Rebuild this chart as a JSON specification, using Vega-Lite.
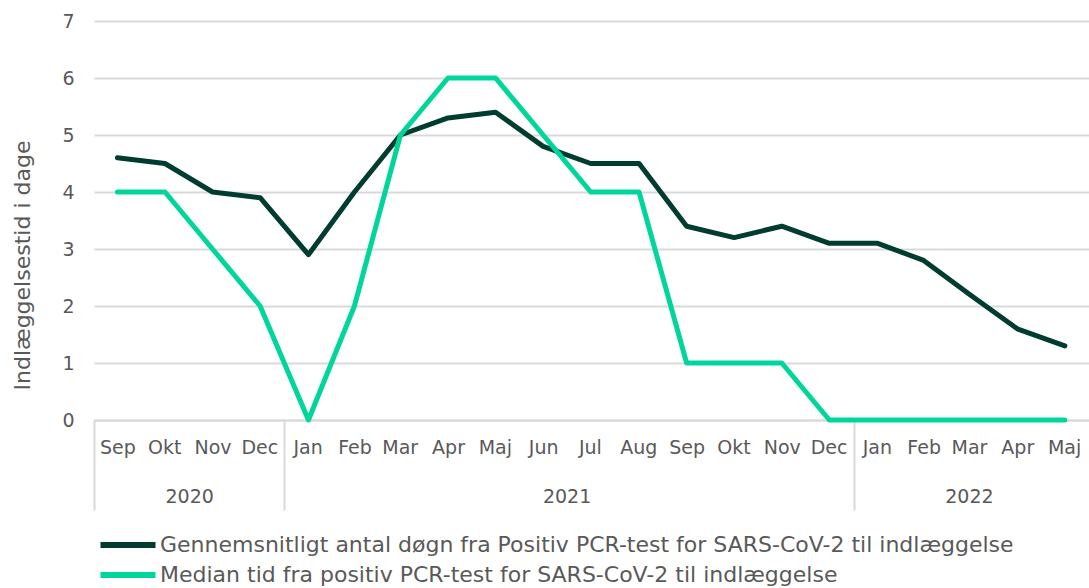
{
  "$schema": "https://vega.github.io/schema/vega-lite/v6.json",
  "width": 995,
  "height": 399,
  "autosize": {"type": "none"},
  "padding": {"left": 94, "top": 21, "right": 0, "bottom": 168},
  "background": "white",
  "config": {
    "font": "DejaVu Sans",
    "view": {"stroke": null},
    "axis": {"labelColor": "#595959", "titleColor": "#595959", "labelFont": "DejaVu Sans", "titleFont": "DejaVu Sans"},
    "legend": {"labelFont": "DejaVu Sans"}
  },
  "data": {
    "values": [
      {"month": "2020-09-01", "serie": "avg", "value": 4.6},
      {"month": "2020-10-01", "serie": "avg", "value": 4.5},
      {"month": "2020-11-01", "serie": "avg", "value": 4.0},
      {"month": "2020-12-01", "serie": "avg", "value": 3.9},
      {"month": "2021-01-01", "serie": "avg", "value": 2.9},
      {"month": "2021-02-01", "serie": "avg", "value": 4.0},
      {"month": "2021-03-01", "serie": "avg", "value": 5.0},
      {"month": "2021-04-01", "serie": "avg", "value": 5.3},
      {"month": "2021-05-01", "serie": "avg", "value": 5.4},
      {"month": "2021-06-01", "serie": "avg", "value": 4.8},
      {"month": "2021-07-01", "serie": "avg", "value": 4.5},
      {"month": "2021-08-01", "serie": "avg", "value": 4.5},
      {"month": "2021-09-01", "serie": "avg", "value": 3.4},
      {"month": "2021-10-01", "serie": "avg", "value": 3.2},
      {"month": "2021-11-01", "serie": "avg", "value": 3.4},
      {"month": "2021-12-01", "serie": "avg", "value": 3.1},
      {"month": "2022-01-01", "serie": "avg", "value": 3.1},
      {"month": "2022-02-01", "serie": "avg", "value": 2.8},
      {"month": "2022-03-01", "serie": "avg", "value": 2.2},
      {"month": "2022-04-01", "serie": "avg", "value": 1.6},
      {"month": "2022-05-01", "serie": "avg", "value": 1.3},
      {"month": "2020-09-01", "serie": "median", "value": 4},
      {"month": "2020-10-01", "serie": "median", "value": 4},
      {"month": "2020-11-01", "serie": "median", "value": 3},
      {"month": "2020-12-01", "serie": "median", "value": 2},
      {"month": "2021-01-01", "serie": "median", "value": 0},
      {"month": "2021-02-01", "serie": "median", "value": 2},
      {"month": "2021-03-01", "serie": "median", "value": 5},
      {"month": "2021-04-01", "serie": "median", "value": 6},
      {"month": "2021-05-01", "serie": "median", "value": 6},
      {"month": "2021-06-01", "serie": "median", "value": 5},
      {"month": "2021-07-01", "serie": "median", "value": 4},
      {"month": "2021-08-01", "serie": "median", "value": 4},
      {"month": "2021-09-01", "serie": "median", "value": 1},
      {"month": "2021-10-01", "serie": "median", "value": 1},
      {"month": "2021-11-01", "serie": "median", "value": 1},
      {"month": "2021-12-01", "serie": "median", "value": 0},
      {"month": "2022-01-01", "serie": "median", "value": 0},
      {"month": "2022-02-01", "serie": "median", "value": 0},
      {"month": "2022-03-01", "serie": "median", "value": 0},
      {"month": "2022-04-01", "serie": "median", "value": 0},
      {"month": "2022-05-01", "serie": "median", "value": 0}
    ]
  },
  "encoding": {
    "y": {
      "field": "value",
      "type": "quantitative",
      "scale": {"domain": [0, 7], "nice": false, "zero": true},
      "axis": {
        "values": [0, 1, 2, 3, 4, 5, 6, 7],
        "title": "Indlæggelsestid i dage",
        "titleFontSize": 22,
        "titleFontWeight": "normal",
        "titlePadding": 27,
        "titleY": 244,
        "labelFontSize": 19,
        "labelPadding": 20,
        "ticks": false,
        "domain": false,
        "gridColor": "#d9d9d9",
        "gridWidth": 2
      }
    },
    "color": {
      "field": "serie",
      "type": "nominal",
      "scale": {"domain": ["avg", "median"], "range": ["#003d30", "#00d69b"]},
      "legend": {
        "orient": "none",
        "legendX": 17,
        "legendY": 507,
        "direction": "vertical",
        "title": null,
        "padding": 0,
        "symbolType": "M-2,0H2",
        "symbolSize": 756,
        "symbolStrokeWidth": 6,
        "labelFontSize": 22,
        "labelColor": "#595959",
        "labelLimit": 1000,
        "labelOffset": 15,
        "rowPadding": 1,
        "labelExpr": "datum.value == 'avg' ? 'Gennemsnitligt antal døgn fra Positiv PCR-test for SARS-CoV-2 til indlæggelse' : 'Median tid fra positiv PCR-test for SARS-CoV-2 til indlæggelse'"
      }
    }
  },
  "layer": [
    {
      "transform": [{"filter": "datum.serie == 'avg'"}],
      "mark": {"type": "line", "strokeWidth": 5, "strokeCap": "round", "strokeJoin": "round"},
      "encoding": {
        "x": {
          "field": "month",
          "type": "temporal",
          "timeUnit": "utcyearmonth",
          "bandPosition": 0.5,
          "scale": {
            "type": "utc",
            "domain": [
              {"year": 2020, "month": 9, "date": 1, "utc": true},
              {"year": 2022, "month": 6, "date": 1, "utc": true}
            ]
          },
          "axis": {
            "orient": "bottom",
            "title": null,
            "grid": false,
            "ticks": false,
            "domain": true,
            "domainColor": "#d9d9d9",
            "domainWidth": 2,
            "labelFontSize": 19,
            "labelPadding": 18,
            "labelAlign": "center",
            "labelOverlap": false,
            "labelFlush": false,
            "values": [
              {"year": 2020, "month": 9, "date": 16, "utc": true},
              {"year": 2020, "month": 10, "date": 16, "utc": true},
              {"year": 2020, "month": 11, "date": 16, "utc": true},
              {"year": 2020, "month": 12, "date": 16, "utc": true},
              {"year": 2021, "month": 1, "date": 16, "utc": true},
              {"year": 2021, "month": 2, "date": 15, "utc": true},
              {"year": 2021, "month": 3, "date": 16, "utc": true},
              {"year": 2021, "month": 4, "date": 16, "utc": true},
              {"year": 2021, "month": 5, "date": 16, "utc": true},
              {"year": 2021, "month": 6, "date": 16, "utc": true},
              {"year": 2021, "month": 7, "date": 16, "utc": true},
              {"year": 2021, "month": 8, "date": 16, "utc": true},
              {"year": 2021, "month": 9, "date": 16, "utc": true},
              {"year": 2021, "month": 10, "date": 16, "utc": true},
              {"year": 2021, "month": 11, "date": 16, "utc": true},
              {"year": 2021, "month": 12, "date": 16, "utc": true},
              {"year": 2022, "month": 1, "date": 16, "utc": true},
              {"year": 2022, "month": 2, "date": 15, "utc": true},
              {"year": 2022, "month": 3, "date": 16, "utc": true},
              {"year": 2022, "month": 4, "date": 16, "utc": true},
              {"year": 2022, "month": 5, "date": 16, "utc": true}
            ],
            "labelExpr": "['Jan','Feb','Mar','Apr','Maj','Jun','Jul','Aug','Sep','Okt','Nov','Dec'][utcmonth(datum.value)]"
          }
        }
      }
    },
    {
      "transform": [{"filter": "datum.serie == 'median'"}],
      "mark": {"type": "line", "strokeWidth": 5, "strokeCap": "round", "strokeJoin": "round"},
      "encoding": {
        "x": {
          "field": "month",
          "type": "temporal",
          "timeUnit": "utcyearmonth",
          "bandPosition": 0.5,
          "axis": {
            "orient": "bottom",
            "title": null,
            "grid": false,
            "domain": false,
            "ticks": true,
            "tickColor": "#d9d9d9",
            "tickWidth": 2,
            "tickSize": {"condition": {"test": "utcmonth(datum.value) == 8 || utcmonth(datum.value) == 0", "value": 90}, "value": 0},
            "labelFontSize": 19,
            "labelPadding": 67,
            "labelAlign": "center",
            "labelOverlap": false,
            "labelFlush": false,
            "values": [
              {"year": 2020, "month": 9, "date": 1, "utc": true},
              {"year": 2021, "month": 1, "date": 1, "utc": true},
              {"year": 2022, "month": 1, "date": 1, "utc": true},
              {"year": 2020, "month": 11, "date": 1, "utc": true},
              {"year": 2021, "month": 7, "date": 1, "utc": true},
              {"year": 2022, "month": 3, "date": 16, "utc": true}
            ],
            "labelExpr": "(utcmonth(datum.value) == 8 || utcmonth(datum.value) == 0) ? '' : '' + utcyear(datum.value)"
          }
        }
      }
    }
  ],
  "resolve": {"axis": {"x": "independent"}}
}
